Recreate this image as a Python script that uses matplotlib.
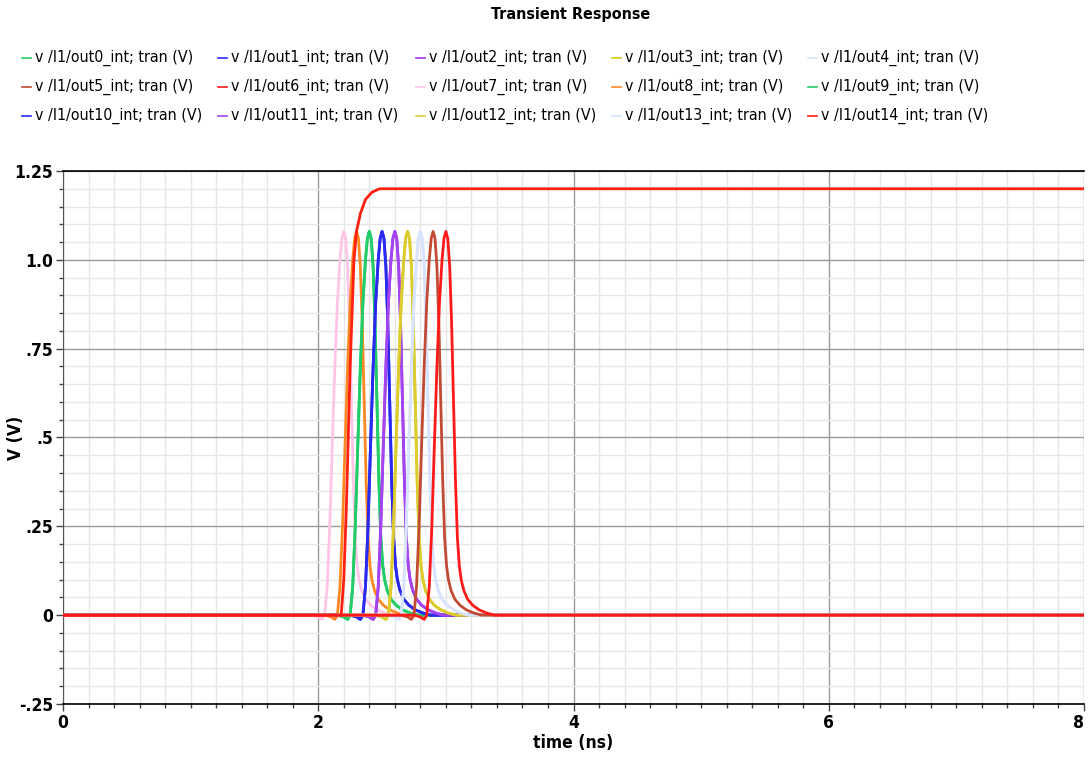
import matplotlib
matplotlib.use("Agg")
import matplotlib.pyplot as plt
from matplotlib import font_manager
from matplotlib.ticker import MultipleLocator, FixedLocator, FixedFormatter

# ---- data -------------------------------------------------------------
names = [f"v /I1/out{i}_int; tran (V)" for i in range(15)]
colors = ["#22cc70", "#2a2aff", "#a333ee", "#dccc10", "#d8e4ff",
          "#c24a32", "#ff1a1a", "#ffc4e8", "#ff8822", "#22cc66",
          "#2a2aee", "#a344ee", "#dccc30", "#d8e4ff", "#ff2010"]

# pulse peak times (ns) for each node; None = the enable step
peak_times = [2.4, 2.5, 2.6, 2.7, 2.8, 2.9, 3.0, 2.2, 2.3,
              2.4, 2.5, 2.6, 2.7, 2.8, None]

# single pulse shape: time relative to peak (ns) and voltage (V)
pulse_dt = [-0.25, -0.20, -0.17, -0.15, -0.13, -0.11, -0.09, -0.07, -0.05,
            -0.03, -0.015, 0.0, 0.015, 0.03, 0.045, 0.06, 0.075, 0.09,
            0.105, 0.12, 0.14, 0.17, 0.21, 0.26, 0.32, 0.38]
pulse_v = [0.0, -0.005, -0.012, 0.0, 0.08, 0.25, 0.48, 0.70, 0.88,
           1.00, 1.06, 1.08, 1.06, 0.98, 0.82, 0.60, 0.38, 0.22,
           0.14, 0.10, 0.07, 0.045, 0.028, 0.015, 0.006, 0.0]

# enable step
step_t = [0.0, 2.18, 2.20, 2.22, 2.25, 2.28, 2.30, 2.33, 2.37, 2.42, 2.48, 8.0]
step_v = [0.0, 0.0, 0.1, 0.3, 0.7, 1.0, 1.08, 1.13, 1.17, 1.19, 1.2, 1.2]

t_start, t_stop = 0.0, 8.0
y_ticks = [-0.25, 0, 0.25, 0.5, 0.75, 1.0, 1.25]
y_ticklabels = ["-.25", "0", ".25", ".5", ".75", "1.0", "1.25"]
x_ticks = [0, 2, 4, 6, 8]

# ---- font ---------------------------------------------------------------
avail = {f.name for f in font_manager.fontManager.ttflist}
if "Liberation Sans Narrow" in avail:
    fam = "Liberation Sans Narrow"
elif "DejaVu Sans Condensed" in avail:
    fam = "DejaVu Sans Condensed"
else:
    fam = "DejaVu Sans"
plt.rcParams["font.family"] = fam
plt.rcParams["font.stretch"] = "condensed"

fig = plt.figure(figsize=(10.88, 7.67), dpi=100)
ax = fig.add_axes([63 / 1088, 1 - 704 / 767, (1084 - 63) / 1088, (704 - 171) / 767])

# draw order: background pulses first, red ones and the step on top
order = [7, 8, 0, 9, 1, 10, 2, 11, 3, 12, 4, 13, 5, 14, 6]
for i in order:
    if peak_times[i] is None:
        t, v = step_t, step_v
    else:
        p = peak_times[i]
        t = [t_start] + [p + d for d in pulse_dt] + [t_stop]
        v = [0.0] + pulse_v + [0.0]
    ax.plot(t, v, color=colors[i], lw=2.0, solid_joinstyle="round", zorder=3)

ax.set_xlim(t_start, t_stop)
ax.set_ylim(-0.25, 1.25)

ax.xaxis.set_major_locator(FixedLocator(x_ticks))
ax.xaxis.set_minor_locator(MultipleLocator(0.2))
ax.yaxis.set_major_locator(FixedLocator(y_ticks))
ax.yaxis.set_major_formatter(FixedFormatter(y_ticklabels))
ax.yaxis.set_minor_locator(MultipleLocator(0.05))

ax.grid(which="major", color="#9a9a9a", lw=1.0, zorder=1)
ax.grid(which="minor", color="#e6e6e6", lw=1.0, zorder=0)
ax.set_axisbelow(True)

ax.tick_params(which="major", direction="out", length=5, width=1, color="#444444",
               labelsize=12.5, pad=2)
ax.tick_params(which="minor", direction="out", length=3, width=1, color="#444444")
ax.tick_params(right=False, top=False)
for lbl in ax.get_xticklabels() + ax.get_yticklabels():
    lbl.set_fontweight("bold")
ax.get_xticklabels()[-1].set_horizontalalignment("right")

for side in ["top", "bottom"]:
    ax.spines[side].set_color("black")
    ax.spines[side].set_linewidth(1.2)
ax.spines["left"].set_color("#555555")
ax.spines["right"].set_visible(False)

ax.set_xlabel("time (ns)", fontsize=12.5, fontweight="bold", labelpad=2)
ax.set_ylabel("V (V)", fontsize=12.5, fontweight="bold")
ax.yaxis.set_label_coords(-38 / 1021, 0.5)

fig.text(571 / 1088, 1 - 15 / 767, "Transient Response", ha="center", va="center",
         fontsize=11.5, fontweight="bold")

# legend: 3 rows x 5 columns drawn as swatch + text
col_x = [22, 218, 416, 612, 808]
row_y = [58, 87, 116]
for i, name in enumerate(names):
    r, c = divmod(i, 5)
    x0, y0 = col_x[c], row_y[r]
    fig.add_artist(plt.Line2D([x0 / 1088, (x0 + 9) / 1088],
                              [1 - y0 / 767, 1 - y0 / 767],
                              color=colors[i], lw=1.2, transform=fig.transFigure))
    fig.text((x0 + 13) / 1088, 1 - y0 / 767, name, ha="left", va="center",
             fontsize=11.4)

fig.savefig("out.png", dpi=100)
